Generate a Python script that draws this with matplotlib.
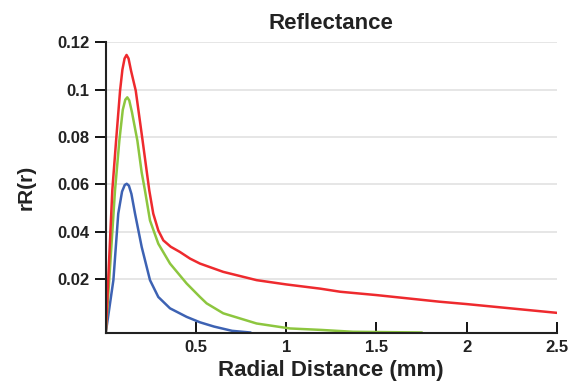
import numpy as np
import matplotlib
matplotlib.use('Agg')
import matplotlib.pyplot as plt

# values (radial distance in mm, rR(r))
red_x = [0, 0.036, 0.057, 0.079, 0.092, 0.104, 0.115, 0.126, 0.14, 0.166, 0.204, 0.241,
         0.263, 0.291, 0.319, 0.36, 0.411, 0.467, 0.522, 0.651, 0.836, 1.0, 1.19, 1.3,
         1.5, 1.85, 2.0, 2.5]
red_y = [-0.0025, 0.0575, 0.0785, 0.0996, 0.1085, 0.1132, 0.1147, 0.1132, 0.108, 0.0996,
         0.0785, 0.0575, 0.0477, 0.0406, 0.0364, 0.0337, 0.0315, 0.0287, 0.0266, 0.0231,
         0.0196, 0.0178, 0.0160, 0.0147, 0.0133, 0.0105, 0.0095, 0.0058]

green_x = [0, 0.051, 0.075, 0.094, 0.108, 0.119, 0.13, 0.145, 0.175, 0.199, 0.217, 0.245,
           0.291, 0.356, 0.448, 0.522, 0.559, 0.651, 0.836, 1.021, 1.19, 1.37, 1.75]
green_y = [-0.0025, 0.0575, 0.0785, 0.0915, 0.0958, 0.0968, 0.0955, 0.0905, 0.0785, 0.0650,
           0.0575, 0.0448, 0.035, 0.0266, 0.0182, 0.0125, 0.0098, 0.0056, 0.0013, -0.0008,
           -0.0014, -0.0022, -0.0025]

blue_x = [0, 0.042, 0.069, 0.09, 0.105, 0.116, 0.128, 0.142, 0.162, 0.199, 0.245, 0.291,
          0.356, 0.448, 0.522, 0.6, 0.7, 0.8]
blue_y = [-0.0025, 0.0196, 0.0477, 0.0570, 0.0598, 0.0603, 0.0595, 0.0560, 0.0477, 0.0336,
          0.0196, 0.0125, 0.0077, 0.0041, 0.0018, 0.0, -0.0018, -0.0025]

xticks = [0.5, 1, 1.5, 2, 2.5]
xticklabels = ['0.5', '1', '1.5', '2', '2.5']
yticks = [0.02, 0.04, 0.06, 0.08, 0.1, 0.12]
yticklabels = ['0.02', '0.04', '0.06', '0.08', '0.1', '0.12']

plt.rcParams['font.family'] = ['Liberation Sans', 'DejaVu Sans']
plt.rcParams['font.weight'] = 'bold'

fig = plt.figure(figsize=(5.76, 3.82), dpi=100)
ax = fig.add_axes([0.1837, 0.129, 0.7828, 0.76])

for y in yticks:
    ax.axhline(y, color='#e2e2e2', lw=1.2, zorder=0)

ax.plot(blue_x, blue_y, color='#3d62b3', lw=1.8, solid_joinstyle='round')
ax.plot(green_x, green_y, color='#8dc63f', lw=1.8, solid_joinstyle='round')
ax.plot(red_x, red_y, color='#ee2a2e', lw=1.8, solid_joinstyle='round')

ax.set_xlim(0, 2.5)
ax.set_ylim(-0.0026, 0.12)
ax.set_xticks(xticks)
ax.set_xticklabels(xticklabels, fontsize=12, fontweight='bold', color='#222222')
ax.set_yticks(yticks)
ax.set_yticklabels(yticklabels, fontsize=12, fontweight='bold', color='#222222')
ax.tick_params(axis='x', direction='in', length=8, width=1.3, pad=5)
ax.tick_params(axis='y', direction='out', length=8, width=1.3, pad=4)

for s in ['top', 'right']:
    ax.spines[s].set_visible(False)
for s in ['left', 'bottom']:
    ax.spines[s].set_linewidth(1.5)
    ax.spines[s].set_color('#222222')

ax.set_title('Reflectance', fontsize=16, fontweight='bold', pad=10, color='#222222')
ax.set_xlabel('Radial Distance (mm)', fontsize=16, fontweight='bold', labelpad=4, color='#222222')
ax.set_ylabel('rR(r)', fontsize=15, fontweight='bold', labelpad=15, color='#222222')

fig.savefig('out.png', dpi=100)
